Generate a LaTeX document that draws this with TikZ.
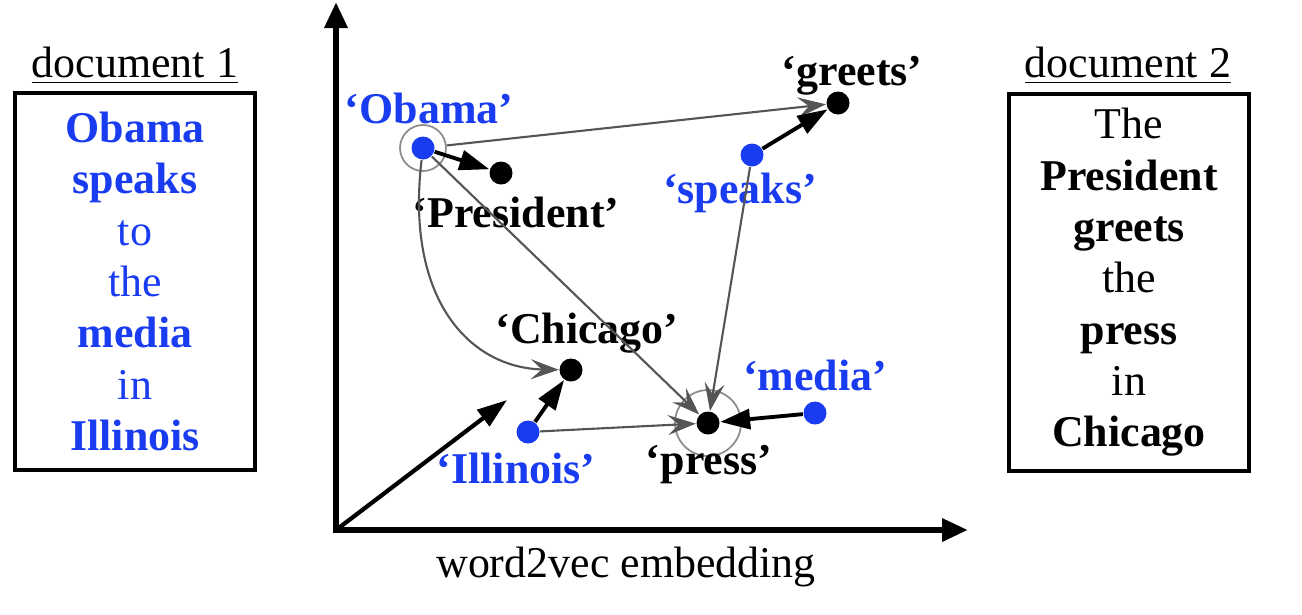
\documentclass[tikz,border=0pt]{standalone}
\usepackage{fontspec}
\setmainfont{Liberation Serif}
\usepackage{tikz}
\usetikzlibrary{arrows.meta, positioning}
\definecolor{wordblue}{HTML}{1A3CF0}
\definecolor{arrowgray}{HTML}{555555}

\tikzset{
  worddot/.style={circle, inner sep=0pt, minimum size=2.3mm},
  bluedot/.style={worddot, fill=wordblue},
  blackdot/.style={worddot, fill=black},
  ringmark/.style={circle, draw=black!45, line width=0.5pt, inner sep=0pt},
  wordlabel/.style={anchor=base, font=\fontsize{12.5}{15}\selectfont\bfseries},
  plainlabel/.style={anchor=base, font=\fontsize{12.5}{15}\selectfont},
  docbox/.style={draw, line width=0.9pt, minimum width=24mm, minimum height=37.7mm,
    inner sep=0pt, align=center, font=\fontsize{12.5}{14.6}\selectfont},
  thickarrow/.style={-{Triangle[length=3mm,width=2mm]}, line width=1.1pt},
  grayarrow/.style={-{Stealth[length=2.8mm,width=2mm,inset=1.1mm]}, draw=arrowgray, line width=0.6pt},
  axisline/.style={{Triangle[length=2.6mm,width=2.2mm]}-{Triangle[length=2.6mm,width=2.2mm]}, line width=1.8pt}
}

\begin{document}
\begin{tikzpicture}[x=0.1mm, y=-0.1mm]
\useasboundingbox (0,0) rectangle (1302,614);

% Axes
\coordinate (origin) at (336,530);
\coordinate (ytip) at (336,2);
\coordinate (xtip) at (968,530);
\coordinate (dirtip) at (507,400);
\draw[axisline] (ytip) -- (origin) -- (xtip);
\draw[thickarrow, line width=1.2pt] (origin) -- (dirtip);
\node[plainlabel] (axisname) at (626,577) {word2vec embedding};

% Word vectors
\node[bluedot] (obama) at (423,148) {};
\node[ringmark, minimum size=4.6mm] (obamaring) at (423,148) {};
\node[blackdot] (president) at (501,173) {};
\node[blackdot] (greets) at (838,103) {};
\node[bluedot] (speaks) at (752,155) {};
\node[blackdot] (chicago) at (571,370) {};
\node[bluedot] (illinois) at (528,432) {};
\node[blackdot] (press) at (708,423) {};
\node[ringmark, minimum size=6.6mm] (pressring) at (708,423) {};
\node[bluedot] (media) at (815,413) {};

% Labels
\node[wordlabel, text=wordblue] (obamatext) at (429,123) {‘Obama’};
\node[wordlabel] (presidenttext) at (516,227) {‘President’};
\node[wordlabel] (greetstext) at (852,85) {‘greets’};
\node[wordlabel, text=wordblue] (speakstext) at (740,203) {‘speaks’};
\node[wordlabel] (chicagotext) at (587,343) {‘Chicago’};
\node[wordlabel, text=wordblue] (illinoistext) at (516,483) {‘Illinois’};
\node[wordlabel] (presstext) at (709,474) {‘press’};
\node[wordlabel, text=wordblue] (mediatext) at (815,390) {‘media’};

% Moves between the two documents
\draw[grayarrow] (obamaring) -- (greets);
\draw[grayarrow] (obama) -- (press);
\draw[grayarrow] (obama) .. controls (405,300) and (470,368) .. (chicago);
\draw[grayarrow] (speaks) -- (press);
\draw[grayarrow] (illinois) -- (press);
\draw[thickarrow] (obama) -- (president);
\draw[thickarrow] (speaks) -- (greets);
\draw[thickarrow] (illinois) -- (chicago);
\draw[thickarrow] (media) -- (press);

% Documents
\node[docbox, text=wordblue] (doc1) at (135,281.5)
  {\textbf{Obama}\\\textbf{speaks}\\to\\the\\\textbf{media}\\in\\\textbf{Illinois}};
\node[plainlabel] (title1) at (135,77) {\underline{document 1}};
\node[docbox] (doc2) at (1129,282.5)
  {The\\\textbf{President}\\\textbf{greets}\\the\\\textbf{press}\\in\\\textbf{Chicago}};
\node[plainlabel] (title2) at (1128,77) {\underline{document 2}};
\end{tikzpicture}
\end{document}
